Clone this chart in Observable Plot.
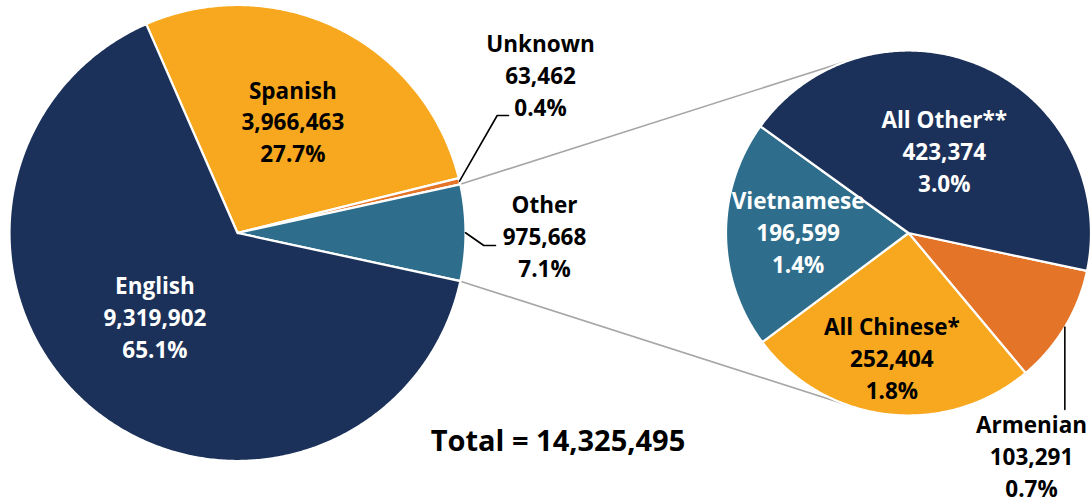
<!DOCTYPE html>
<html><head><meta charset="utf-8">
<script src="https://cdn.jsdelivr.net/npm/d3@7"></script>
<script src="https://cdn.jsdelivr.net/npm/@observablehq/plot@0.6"></script>
<style>body{margin:0;background:#fff;}</style>
</head><body><div id="chart"></div>
<script>
// ---------- DATA ----------
const mainLabels   = ["Spanish", "Unknown", "Other", "English"];
const mainValues   = [3966463, 63462, 975668, 9319902];
const mainPercents = ["27.7%", "0.4%", "7.1%", "65.1%"];

const subLabels   = ["Armenian", "All Chinese*", "Vietnamese", "All Other**"];
const subValues   = [103291, 252404, 196599, 423374];
const subPercents = ["0.7%", "1.8%", "1.4%", "3.0%"];

const totalText = "Total = 14,325,495";

// ---------- STYLE / LAYOUT ----------
const NAVY = "#1b3159", YELLOW = "#f8a81f", TEAL = "#2e6e8c", ORANGE = "#e37428";
const colorOf = {
  "Spanish": YELLOW, "Unknown": ORANGE, "Other": TEAL, "English": NAVY,
  "Armenian": ORANGE, "All Chinese*": YELLOW, "Vietnamese": TEAL, "All Other**": NAVY
};
const textColorOf = {
  "Spanish": "#000", "English": "#fff", "All Other**": "#fff",
  "Vietnamese": "#fff", "All Chinese*": "#000"
};
const FONT = "'Open Sans', 'Noto Sans', sans-serif";
const FS = 22.5, LH = 1.42;
const W = 1092, H = 504;
const mainPie = {cx: 237, cy: 232.5, r: 228, start: -23.6};
const subPie  = {cx: 908, cy: 232.5, r: 182.5, start: 102.0};
// inside label placement: fraction of radius, angle tweak (deg)
const insideLabel = {
  "Spanish": {rf: 0.551, da: -0.1}, "English": {rf: 0.513, da: 5.6},
  "All Other**": {rf: 0.495, da: -0.6}, "Vietnamese": {rf: 0.605, da: 1.6},
  "All Chinese*": {rf: 0.682, da: 1.0}
};
// outside callouts: label block position + leader elbows
const callouts = {
  "Unknown":  {tx: 540, ty: 73.7,  elbow: [[496.7, 115], [508, 115]]},
  "Other":    {tx: 544, ty: 234.7, elbow: [[483.3, 245], [495, 245]]},
  "Armenian": {tx: 1031, ty: 454.5, elbow: [[null, 409]]}
};

const rad = d => d * Math.PI / 180;
function layoutPie(labels, values, cfg) {
  const total = d3.sum(values);
  let a = cfg.start;
  return labels.map((name, i) => {
    const span = values[i] / total * 360;
    const s = {name, value: values[i], a0: a, a1: a + span, mid: a + span / 2, cfg, i};
    a += span;
    return s;
  });
}
const pt = (cfg, angDeg, r) => [cfg.cx + r * Math.sin(rad(angDeg)), cfg.cy - r * Math.cos(rad(angDeg))];

const mainSlices = layoutPie(mainLabels, mainValues, mainPie);
const subSlices  = layoutPie(subLabels, subValues, subPie);

function polygon(s) {
  const c = s.cfg, pts = [];
  pts.push({name: s.name, x: c.cx, y: c.cy});
  const n = Math.max(2, Math.ceil((s.a1 - s.a0) / 0.5));
  for (let k = 0; k <= n; k++) {
    const [x, y] = pt(c, s.a0 + (s.a1 - s.a0) * k / n, c.r);
    pts.push({name: s.name, x, y});
  }
  pts.push({name: s.name, x: c.cx, y: c.cy});
  return pts.map(p => ({...p, color: colorOf[s.name]}));
}
const slicePts = [...mainSlices, ...subSlices].flatMap(polygon);

// connector lines (Other slice -> secondary pie)
const other = mainSlices.find(s => s.name === "Other");
const [u0x, u0y] = pt(mainPie, other.a0, mainPie.r);
const [l0x, l0y] = pt(mainPie, other.a1, mainPie.r);
const [u1x, u1y] = pt(subPie, -18.3, subPie.r);
const [l1x, l1y] = pt(subPie, 198.3, subPie.r);
const connectors = [
  {k: "u", x: u0x, y: u0y}, {k: "u", x: u1x, y: u1y},
  {k: "l", x: l0x, y: l0y}, {k: "l", x: l1x, y: l1y}
];

// leader lines + labels
const fmt = d3.format(",");
const allSlices = [...mainSlices, ...subSlices];
const percentOf = name => {
  const i = mainLabels.indexOf(name);
  return i >= 0 ? mainPercents[i] : subPercents[subLabels.indexOf(name)];
};
const leaders = [];
const labels = [];
for (const s of allSlices) {
  const text = `${s.name}\n${fmt(s.value)}\n${percentOf(s.name)}`;
  if (callouts[s.name]) {
    const co = callouts[s.name];
    const [x0, y0] = pt(s.cfg, s.mid, s.cfg.r);
    leaders.push({k: s.name, x: x0, y: y0});
    for (const [ex, ey] of co.elbow) leaders.push({k: s.name, x: ex == null ? x0 : ex, y: ey});
    labels.push({text, x: co.tx, y: co.ty, fill: "#000"});
  } else {
    const L = insideLabel[s.name];
    const [x, y] = pt(s.cfg, s.mid + L.da, s.cfg.r * L.rf);
    labels.push({text, x, y, fill: textColorOf[s.name]});
  }
}

const chart = Plot.plot({
  width: W, height: H, margin: 0,
  x: {domain: [0, W], range: [0, W], axis: null},
  y: {domain: [0, H], range: [0, H], axis: null},
  color: {type: "identity"},
  style: {fontFamily: FONT, background: "#fff", overflow: "visible"},
  marks: [
    Plot.line(connectors, {x: "x", y: "y", z: "k", stroke: "#a6a6a6", strokeWidth: 1.6}),
    Plot.line(slicePts, {x: "x", y: "y", z: "name", fill: "color", stroke: "#fff", strokeWidth: 2.2, strokeLinejoin: "round"}),
    Plot.line(leaders, {x: "x", y: "y", z: "k", stroke: "#000", strokeWidth: 1.6}),
    Plot.text(labels, {x: "x", y: "y", text: "text", fill: "fill", fontSize: FS, fontWeight: 700, lineHeight: LH, textAnchor: "middle"}),
    Plot.text([totalText], {x: () => 557.5, y: () => 441.4, text: d => d, fill: "#000", fontSize: 29, fontWeight: 700, textAnchor: "middle"})
  ]
});
document.getElementById("chart").appendChild(chart);
</script>
</body></html>
